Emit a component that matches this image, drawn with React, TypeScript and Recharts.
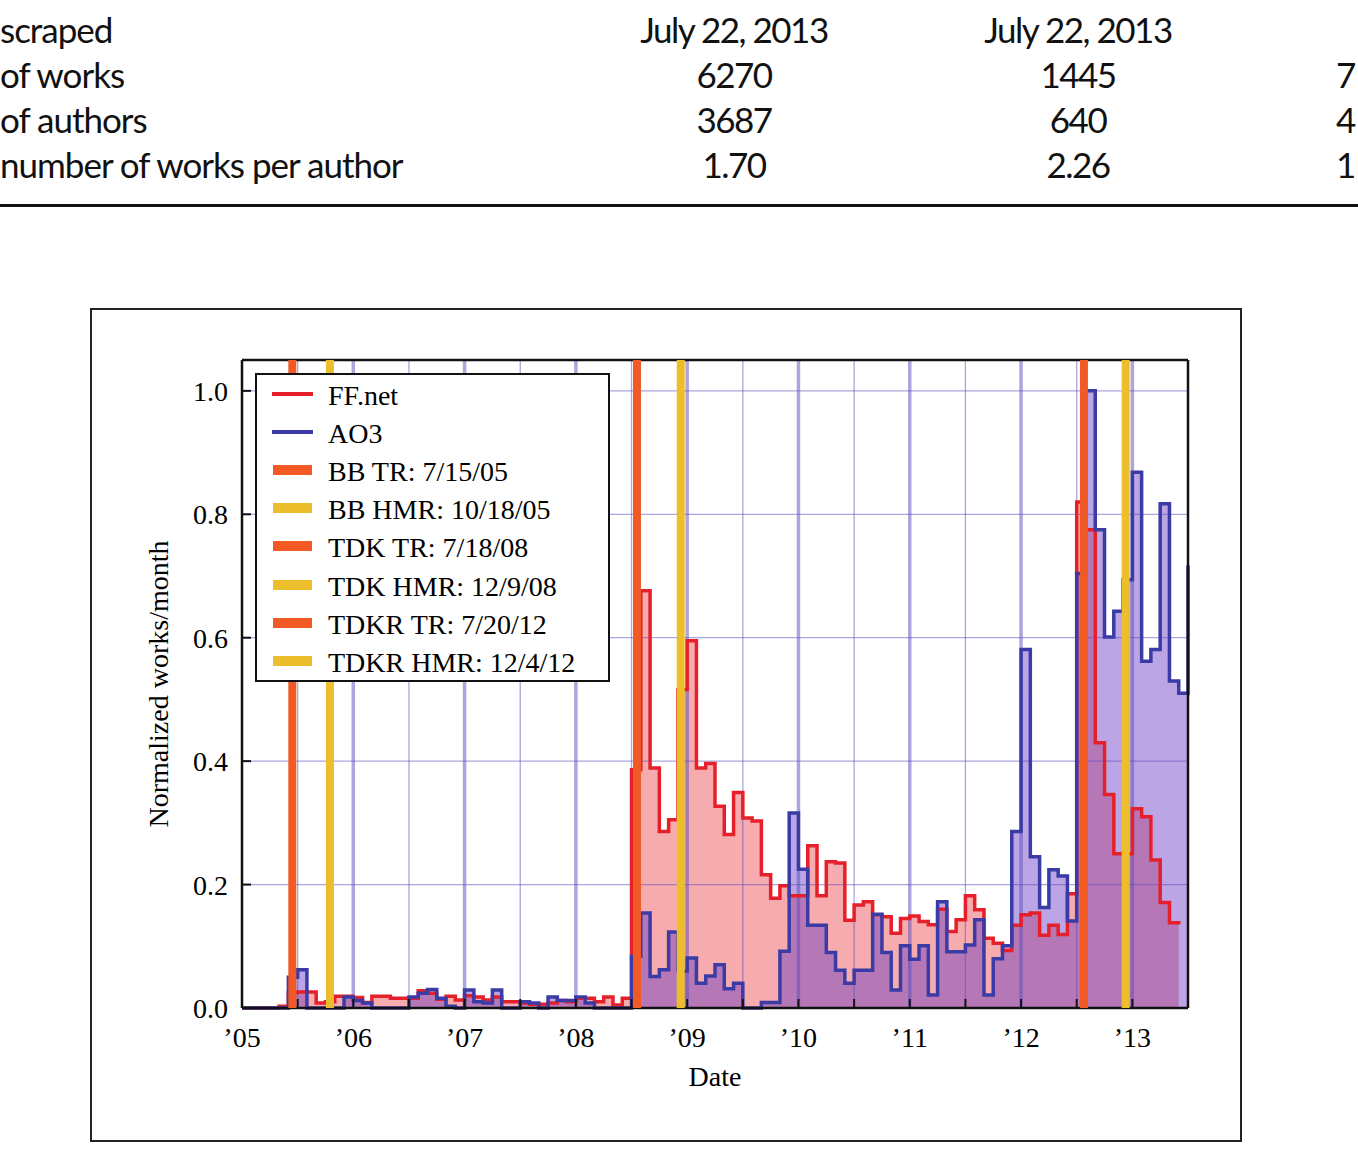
import React from "react";
import { ComposedChart, Area, Line, XAxis, YAxis, ReferenceLine } from "recharts";

// monthly series, first value = Jan 2005
const START_YEAR = 2005;

const FFNET = [
  0, 0, 0, 0, 0.003, 0.025, 0.026, 0.026, 0.008, 0.01, 0.019, 0.019,
  0.017, 0.009, 0.019, 0.019, 0.016, 0.016, 0.016, 0.028, 0.024, 0.014, 0.019, 0.013,
  0.02, 0.018, 0.013, 0.018, 0.01, 0.01, 0.008, 0.006, 0.006, 0.008, 0.012, 0.01,
  0.016, 0.016, 0.01, 0.018, 0.005, 0.016, 0.386, 0.676, 0.389, 0.286, 0.305, 0.516,
  0.595, 0.389, 0.396, 0.327, 0.281, 0.349, 0.308, 0.303, 0.216, 0.178, 0.198, 0.182,
  0.182, 0.263, 0.182, 0.237, 0.235, 0.142, 0.167, 0.172, 0.151, 0.148, 0.121, 0.145,
  0.149, 0.14, 0.135, 0.16, 0.124, 0.143, 0.182, 0.159, 0.113, 0.105, 0.093, 0.134,
  0.151, 0.154, 0.118, 0.134, 0.119, 0.185, 0.82, 0.775, 0.43, 0.346, 0.25, 0.25,
  0.323, 0.31, 0.24, 0.171, 0.138, 0.141,
];

const AO3 = [
  0, 0, 0, 0, 0, 0.05, 0.062, 0, 0, 0, 0, 0.018,
  0.012, 0.008, 0, 0, 0, 0, 0.018, 0.024, 0.03, 0.016, 0.003, 0,
  0.029, 0.01, 0.008, 0.029, 0, 0, 0.01, 0.008, 0, 0.018, 0.012, 0.012,
  0.018, 0.008, 0, 0, 0, 0, 0.084, 0.154, 0.051, 0.062, 0.123, 0.06,
  0.081, 0.04, 0.052, 0.07, 0.031, 0.04, 0, 0, 0.009, 0.009, 0.092, 0.316,
  0.225, 0.134, 0.134, 0.09, 0.061, 0.04, 0.061, 0.061, 0.152, 0.09, 0.029, 0.101,
  0.079, 0.101, 0.021, 0.172, 0.091, 0.091, 0.102, 0.143, 0.021, 0.08, 0.101, 0.286,
  0.581, 0.245, 0.163, 0.224, 0.214, 0.141, 0.704, 1.0, 0.775, 0.601, 0.643, 0.694,
  0.868, 0.562, 0.581, 0.817, 0.53, 0.51, 0.717,
];

const X_TICKS = [
  2005, 2005.5, 2006, 2006.5, 2007, 2007.5, 2008, 2008.5, 2009,
  2009.5, 2010, 2010.5, 2011, 2011.5, 2012, 2012.5, 2013, 2013.5,
];
const YEAR_LINES = [2006, 2007, 2008, 2009, 2010, 2011, 2012, 2013];
const HALF_LINES = [2005.5, 2006.5, 2007.5, 2008.5, 2009.5, 2010.5, 2011.5, 2012.5];
const Y_TICKS = [0, 0.2, 0.4, 0.6, 0.8, 1.0];
const Y_LINES = [0.2, 0.4, 0.6, 0.8, 1.0];

// release dates as decimal years (where the marker sits in the figure)
const EVENTS = [
  { label: "BB TR: 7/15/05", x: 2005.452, kind: "tr" },
  { label: "BB HMR: 10/18/05", x: 2005.79, kind: "hmr" },
  { label: "TDK TR: 7/18/08", x: 2008.549, kind: "tr" },
  { label: "TDK HMR: 12/9/08", x: 2008.942, kind: "hmr" },
  { label: "TDKR TR: 7/20/12", x: 2012.565, kind: "tr" },
  { label: "TDKR HMR: 12/4/12", x: 2012.94, kind: "hmr" },
];

const TABLE_ROWS = [
  { label: "scraped", a: "July 22, 2013", b: "July 22, 2013", c: "" },
  { label: "of works", a: "6270", b: "1445", c: "7" },
  { label: "of authors", a: "3687", b: "640", c: "4" },
  { label: "number of works per author", a: "1.70", b: "2.26", c: "1" },
];

const RED = "#E6202A";
const BLUE = "#3B3BA6";
const ORANGE = "#F15A24";
const YELLOW = "#EDBE2C";
const GRID = "#5A4BBE";
const SERIF = "'Liberation Serif', 'Times New Roman', serif";
const SANS = "Lato, 'Open Sans', sans-serif";

const chartData = AO3.map((v, i) => ({
  x: START_YEAR + i / 12,
  ao3: v,
  ff: i < FFNET.length ? FFNET[i] : null,
}));

const tickFont = { fontSize: 28, fill: "#000", fontFamily: SERIF };
const axisLine = { stroke: "#111", strokeWidth: 2.5 };
const tickLine = { stroke: "#111", strokeWidth: 2 };

const cellText = {
  position: "absolute" as const,
  fontFamily: SANS,
  fontSize: 35,
  lineHeight: "45px",
  whiteSpace: "nowrap" as const,
  color: "#111",
};

export default function App() {
  return (
    <div
      style={{
        position: "absolute",
        left: 0,
        top: 0,
        width: 1358,
        height: 1154,
        overflow: "hidden",
        background: "#fff",
      }}
    >
      {/* table fragment above the figure */}
      {TABLE_ROWS.map((r, i) => (
        <React.Fragment key={r.label}>
          <div style={{ ...cellText, left: 0, top: 7 + i * 45, letterSpacing: -1 }}>{r.label}</div>
          <div style={{ ...cellText, left: 584, width: 300, top: 7 + i * 45, textAlign: "center", letterSpacing: -1.5 }}>{r.a}</div>
          <div style={{ ...cellText, left: 928, width: 300, top: 7 + i * 45, textAlign: "center", letterSpacing: -1.5 }}>{r.b}</div>
          <div style={{ ...cellText, left: 1336, top: 7 + i * 45 }}>{r.c}</div>
        </React.Fragment>
      ))}
      <div style={{ position: "absolute", left: 0, top: 204, width: 1358, height: 3, background: "#111" }} />

      {/* figure frame */}
      <div style={{ position: "absolute", left: 90, top: 308, width: 1152, height: 834, border: "2px solid #222", boxSizing: "border-box" }} />

      <div style={{ position: "absolute", left: 90, top: 308 }}>
        <ComposedChart width={1152} height={834} data={chartData} margin={{ top: 51, right: 50, bottom: 74, left: 62 }}>
          {/* fills */}
          <Area
            type="stepAfter"
            dataKey="ff"
            stroke="none"
            fill="#E8232A"
            fillOpacity={0.38}
            dot={false}
            activeDot={false}
            isAnimationActive={false}
            zIndex={100}
          />
          <Area
            type="stepAfter"
            dataKey="ao3"
            stroke="none"
            fill="#6937C3"
            fillOpacity={0.45}
            dot={false}
            activeDot={false}
            isAnimationActive={false}
            zIndex={101}
          />

          {/* grid drawn over the fills */}
          {YEAR_LINES.map((x) => (
            <ReferenceLine key={"yr" + x} x={x} stroke={GRID} strokeOpacity={0.5} strokeWidth={3.5} zIndex={200} />
          ))}
          {HALF_LINES.map((x) => (
            <ReferenceLine key={"hf" + x} x={x} stroke={GRID} strokeOpacity={0.5} strokeWidth={1.3} zIndex={200} />
          ))}
          {Y_LINES.map((y) => (
            <ReferenceLine key={"h" + y} y={y} stroke={GRID} strokeOpacity={0.5} strokeWidth={1.3} zIndex={200} />
          ))}

          {/* step outlines */}
          <Line type="stepAfter" dataKey="ff" stroke={RED} strokeWidth={3.5} dot={false} activeDot={false} isAnimationActive={false} zIndex={400} />
          <Line type="stepAfter" dataKey="ao3" stroke={BLUE} strokeWidth={3.5} dot={false} activeDot={false} isAnimationActive={false} zIndex={401} />

          {EVENTS.map((e) => (
            <ReferenceLine key={e.label} x={e.x} stroke={e.kind === "tr" ? ORANGE : YELLOW} strokeWidth={8} zIndex={600} />
          ))}

          <XAxis
            dataKey="x"
            type="number"
            domain={[2005, 2013.5]}
            ticks={X_TICKS}
            interval={0}
            height={60}
            tickSize={-9}
            tickMargin={28}
            tickFormatter={(v: number) => (Number.isInteger(v) ? "\u2019" + String(v).slice(2) : "")}
            tick={tickFont}
            axisLine={axisLine}
            tickLine={tickLine}
            label={{ value: "Date", position: "bottom", offset: -2, style: { fontSize: 28, fontFamily: SERIF, fill: "#000" } }}
          />
          <XAxis
            xAxisId="top"
            orientation="top"
            dataKey="x"
            type="number"
            domain={[2005, 2013.5]}
            ticks={X_TICKS}
            interval={0}
            height={1}
            tickSize={-9}
            tick={false}
            axisLine={axisLine}
            tickLine={tickLine}
          />
          <YAxis
            type="number"
            domain={[0, 1.05]}
            ticks={Y_TICKS}
            interval={0}
            width={90}
            tickSize={-9}
            tickMargin={23}
            tickFormatter={(v: number) => v.toFixed(1)}
            tick={tickFont}
            axisLine={axisLine}
            tickLine={tickLine}
            label={{
              value: "Normalized works/month",
              angle: -90,
              position: "insideLeft",
              offset: 6,
              style: { textAnchor: "middle", fontSize: 28, fontFamily: SERIF, fill: "#000" },
            }}
          />
          <YAxis
            yAxisId="right"
            orientation="right"
            type="number"
            domain={[0, 1.05]}
            ticks={Y_TICKS}
            interval={0}
            width={4}
            tickSize={-9}
            tick={false}
            axisLine={axisLine}
            tickLine={tickLine}
          />
        </ComposedChart>
      </div>

      {/* legend box */}
      <div style={{ position: "absolute", left: 255, top: 373, width: 355, height: 309, border: "2px solid #111", boxSizing: "border-box", background: "#fff" }}>
        {[
          { label: "FF.net", color: RED, thick: false },
          { label: "AO3", color: BLUE, thick: false },
          ...EVENTS.map((e) => ({ label: e.label, color: e.kind === "tr" ? ORANGE : YELLOW, thick: true })),
        ].map((item, i) => {
          const cy = 19 + i * 38.1;
          return (
            <React.Fragment key={item.label}>
              <div
                style={{
                  position: "absolute",
                  left: item.thick ? 16 : 15,
                  width: item.thick ? 39 : 41,
                  top: cy - (item.thick ? 5 : 2),
                  height: item.thick ? 10 : 4,
                  background: item.color,
                }}
              />
              <div style={{ position: "absolute", left: 71, top: cy - 12, fontFamily: SERIF, fontSize: 28, lineHeight: "28px", whiteSpace: "nowrap", color: "#000" }}>
                {item.label}
              </div>
            </React.Fragment>
          );
        })}
      </div>
    </div>
  );
}
